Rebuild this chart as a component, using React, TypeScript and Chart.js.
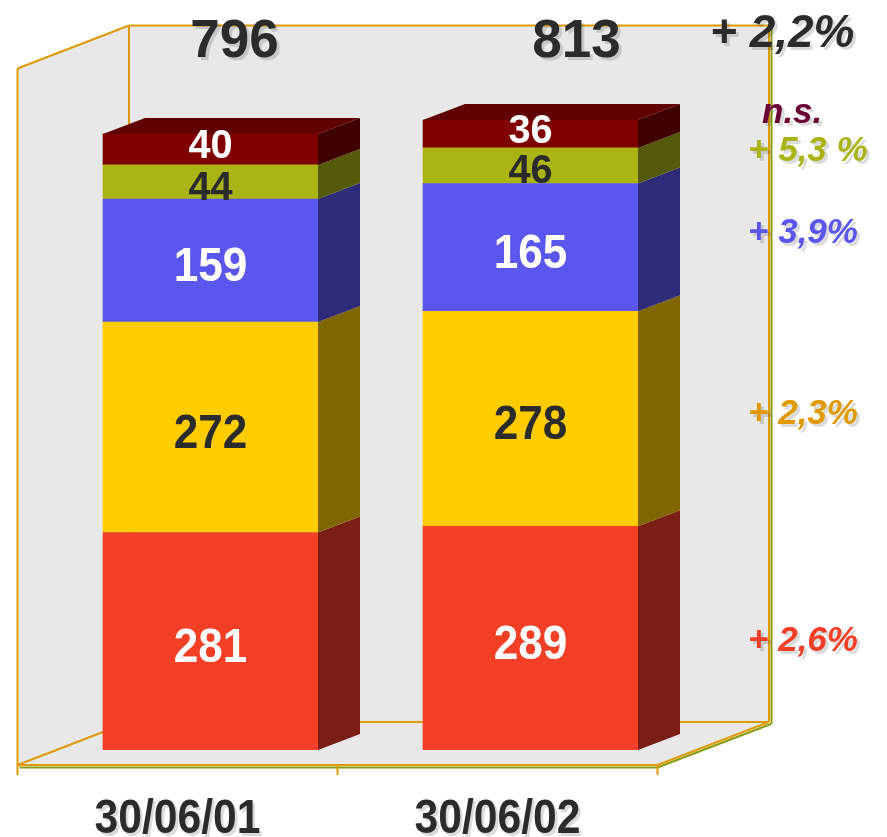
import React, { useEffect, useRef } from "react";
import { Chart, registerables } from "chart.js";

Chart.register(...registerables);

// ---- data ----
const categories = ["30/06/01", "30/06/02"];
const seriesNames = ["Série 1", "Série 2", "Série 3", "Série 4", "Série 5"];
const series1 = [281, 289];
const series2 = [272, 278];
const series3 = [159, 165];
const series4 = [44, 46];
const series5 = [40, 36];
const totalLabels = ["796", "813"];
const changeLabels = ["+ 2,6%", "+ 2,3%", "+ 3,9%", "+ 5,3 %", "n.s."];
const totalChangeLabel = "+ 2,2%";
const yMin = 0;
const yMax = 900;

// ---- styles ----
const frontColors = ["#F33F26", "#FFCC00", "#5B57EE", "#AAB414", "#800000"];
const sideColors = ["#7B1F16", "#806600", "#2E2B78", "#555A0A", "#400000"];
const topColor = "#600000";
const valueTextColors = ["#FFFFFF", "#2B2B2B", "#FFFFFF", "#2B2B2B", "#FFFFFF"];
const valueFontSizes = [49, 49, 49, 41, 41];
const valueScaleX = [0.9, 0.9, 0.9, 0.97, 0.97];
const valueNudgeY = [3, 3, 3, 3, -6];
const changeColors = ["#F33F26", "#E09A00", "#5B57EE", "#AAB414", "#6B0036"];
const changeNudgeY = [0, -8, -17, -18, -24];
const changeNudgeX = [0, 0, 0, 0, 14];
const totalNudgeX = [24, 46];
const FONT = '"Liberation Sans", Arial, sans-serif';
const DARK = "#2B2B2B";
const WALL = "#E8E8E8";
const ORANGE = "#DF9A07";
const OLIVE = "#8A9A10";
const BAR_DX = 42;
const BAR_DY = -16;
const FRONT = { dx: -33, dy: 15 };
const BACK = { dx: 78.5, dy: -28 };

function poly(ctx: CanvasRenderingContext2D, pts: number[][], fill: string) {
  ctx.beginPath();
  ctx.moveTo(pts[0][0], pts[0][1]);
  for (let k = 1; k < pts.length; k++) ctx.lineTo(pts[k][0], pts[k][1]);
  ctx.closePath();
  ctx.fillStyle = fill;
  ctx.fill();
}

function line(ctx: CanvasRenderingContext2D, x1: number, y1: number, x2: number, y2: number, color: string, w = 2) {
  ctx.beginPath();
  ctx.moveTo(x1, y1);
  ctx.lineTo(x2, y2);
  ctx.strokeStyle = color;
  ctx.lineWidth = w;
  ctx.stroke();
}

function shadowText(
  ctx: CanvasRenderingContext2D,
  text: string,
  x: number,
  y: number,
  color: string,
  font: string,
  align: CanvasTextAlign,
  scaleX = 1,
  shadow = true
) {
  ctx.save();
  ctx.font = font;
  ctx.textAlign = align;
  ctx.textBaseline = "alphabetic";
  ctx.translate(x, y);
  ctx.scale(scaleX, 1);
  if (shadow) {
    ctx.fillStyle = "rgba(0,0,0,0.14)";
    ctx.fillText(text, 3, 3);
  }
  ctx.fillStyle = color;
  ctx.fillText(text, 0, 0);
  ctx.restore();
}

const wallsPlugin = {
  id: "walls3d",
  beforeDatasetsDraw(chart: any) {
    const ctx: CanvasRenderingContext2D = chart.ctx;
    const ca = chart.chartArea;
    const fl = ca.left + FRONT.dx, fr = ca.right + FRONT.dx, ft = ca.top + FRONT.dy, fb = ca.bottom + FRONT.dy;
    const bl = ca.left + BACK.dx, br = ca.right + BACK.dx, bt = ca.top + BACK.dy, bb = ca.bottom + BACK.dy;
    ctx.save();
    poly(ctx, [[bl, bt], [br, bt], [br, bb], [bl, bb]], WALL);
    poly(ctx, [[fl, ft], [bl, bt], [bl, bb], [fl, fb]], WALL);
    poly(ctx, [[fl, fb], [bl, bb], [br, bb], [fr, fb]], WALL);
    // olive under-lines
    line(ctx, fl + 2, fb + 2.5, fr, fb + 2.5, OLIVE, 2);
    line(ctx, fr, fb + 2.5, br + 2, bb + 2, OLIVE, 2);
    line(ctx, br + 2.5, bt + 2, br + 2.5, bb + 2, OLIVE, 2);
    // orange edges
    line(ctx, bl, bt, br, bt, ORANGE);
    line(ctx, bl, bt, bl, bb, ORANGE);
    line(ctx, bl, bb, br, bb, ORANGE);
    line(ctx, br, bt, br, bb, ORANGE);
    line(ctx, fl, ft, bl, bt, ORANGE);
    line(ctx, fl, ft, fl, fb + 10, ORANGE);
    line(ctx, fl, fb, bl, bb, ORANGE);
    line(ctx, fl, fb, fr, fb, ORANGE);
    line(ctx, fr, fb, br, bb, ORANGE);
    const mid = (fl + fr) / 2;
    line(ctx, mid, fb, mid, fb + 10, ORANGE);
    line(ctx, fr, fb, fr, fb + 10, ORANGE);
    ctx.restore();
  },
};

const bars3dPlugin = {
  id: "bars3d",
  afterDatasetsDraw(chart: any) {
    const ctx: CanvasRenderingContext2D = chart.ctx;
    const n = chart.data.datasets.length;
    ctx.save();
    for (let d = 0; d < n; d++) {
      const meta = chart.getDatasetMeta(d);
      meta.data.forEach((el: any) => {
        const { x, y, base, width } = el.getProps(["x", "y", "base", "width"], true);
        const left = x - width / 2;
        const right = x + width / 2;
        poly(ctx, [[right, y], [right + BAR_DX, y + BAR_DY], [right + BAR_DX, base + BAR_DY], [right, base]], sideColors[d]);
        if (d === n - 1) {
          poly(ctx, [[left, y], [left + BAR_DX, y + BAR_DY], [right + BAR_DX, y + BAR_DY], [right, y]], topColor);
        }
      });
    }
    ctx.restore();
  },
};

const labelsPlugin = {
  id: "labels3d",
  afterDraw(chart: any) {
    const ctx: CanvasRenderingContext2D = chart.ctx;
    const ca = chart.chartArea;
    const n = chart.data.datasets.length;
    // values inside bars
    for (let d = 0; d < n; d++) {
      const meta = chart.getDatasetMeta(d);
      meta.data.forEach((el: any, i: number) => {
        const { x, y, base } = el.getProps(["x", "y", "base"], true);
        const size = valueFontSizes[d];
        const cy = (y + base) / 2 + valueNudgeY[d] + 0.358 * size;
        shadowText(ctx, String(chart.data.datasets[d].data[i]), x, cy, valueTextColors[d], `bold ${size}px ${FONT}`, "center", valueScaleX[d], false);
      });
    }
    // totals on top
    const topMeta = chart.getDatasetMeta(n - 1);
    topMeta.data.forEach((el: any, i: number) => {
      shadowText(ctx, totalLabels[i], el.x + totalNudgeX[i], ca.top + 3, DARK, `bold 53px ${FONT}`, "center");
    });
    // category labels (front plane)
    const xScale = chart.scales.x;
    categories.forEach((c, i) => {
      const px = xScale.getPixelForValue(i) + FRONT.dx;
      shadowText(ctx, c, px, ca.bottom + 83, DARK, `bold 49px ${FONT}`, "center", 0.87);
    });
    // change labels aligned with last category's segments
    const lastIdx = categories.length - 1;
    for (let d = 0; d < n; d++) {
      const el: any = chart.getDatasetMeta(d).data[lastIdx];
      const { y, base } = el.getProps(["y", "base"], true);
      const cy = (y + base) / 2 + 13 + changeNudgeY[d];
      shadowText(ctx, changeLabels[d], ca.right + 57.5 + changeNudgeX[d], cy, changeColors[d], `italic bold 35px ${FONT}`, "left");
    }
    shadowText(ctx, totalChangeLabel, ca.right + 19.5, ca.top - 6.5, DARK, `italic bold 46px ${FONT}`, "left");
  },
};

export default function App() {
  const ref = useRef<HTMLCanvasElement | null>(null);
  useEffect(() => {
    if (!ref.current) return;
    const allSeries = [series1, series2, series3, series4, series5];
    const chart = new Chart(ref.current, {
      type: "bar",
      data: {
        labels: categories,
        datasets: allSeries.map((s, k) => ({
          label: seriesNames[k],
          data: s,
          backgroundColor: frontColors[k],
          borderWidth: 0,
          barThickness: 215,
        })),
      },
      options: {
        animation: false,
        responsive: false,
        maintainAspectRatio: false,
        layout: { padding: { left: 50.5, right: 196.5, top: 53.5, bottom: 87 } },
        scales: {
          x: { stacked: true, display: false },
          y: { stacked: true, display: false, min: yMin, max: yMax },
        },
        plugins: { legend: { display: false }, tooltip: { enabled: false } },
      },
      plugins: [wallsPlugin, bars3dPlugin, labelsPlugin],
    } as any);
    return () => chart.destroy();
  }, []);
  return (
    <div style={{ position: "absolute", left: 0, top: 0, width: 887, height: 837, background: "#fff" }}>
      <canvas ref={ref} width={887} height={837} style={{ display: "block" }} />
    </div>
  );
}
